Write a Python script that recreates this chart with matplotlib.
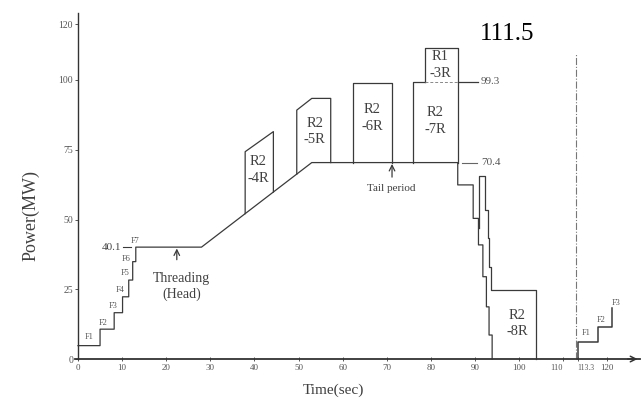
import matplotlib
matplotlib.use("Agg")
import matplotlib.pyplot as plt
import numpy as np

plt.rcParams['font.family'] = ['Liberation Serif', 'DejaVu Serif']

ink = '#3a3a3a'
txt = '#404040'

# main power curve: head steps F1..F7, threading, ramp, plateau, tail steps
main_t = [0, 5, 5, 8.2, 8.2, 10.1, 10.1, 11.5, 11.5, 12.4, 12.4, 13.1, 13.1, 28, 53, 86.1,
          86.1, 89.6, 89.6, 90.8, 90.8, 91.8, 91.8, 92.6, 92.6, 93.2, 93.2, 93.9, 93.9]
main_p = [4.8, 4.8, 10.7, 10.7, 16.6, 16.6, 22.3, 22.3, 28.3, 28.3, 34.9, 34.9, 40.1, 40.1, 70.4, 70.4,
          62.4, 62.4, 50.4, 50.4, 40.9, 40.9, 29.5, 29.5, 18.7, 18.7, 8.6, 8.6, 0]

# tail spike and R2-8R pass
spike_t = [91.0, 91.0, 92.3, 92.3, 92.9, 92.9, 93.3, 93.3, 93.7, 93.7, 103.8, 103.8]
spike_p = [47.0, 65.6, 65.6, 53.4, 53.4, 43.3, 43.3, 33.0, 33.0, 24.7, 24.7, 0]

# next slab head steps
next_t = [113.3, 113.3, 118.0, 118.0, 121.0, 121.0]
next_p = [0, 6.2, 6.2, 11.6, 11.6, 18.3]

# roughing passes drawn above the curve: (left t, right t, top-left P, top corner t, top P)
pass_names = ['R2\n-4R', 'R2\n-5R', 'R2\n-6R', 'R2\n-7R', 'R1\n-3R']
pass_left = [37.9, 49.6, 62.3, 75.9, 78.7]
pass_right = [44.3, 57.3, 71.1, 86.1, 86.1]
pass_top_left = [74.3, 89.2, 98.8, 99.3, 111.5]
pass_corner = [44.3, 53.0, 62.3, 75.9, 78.7]
pass_top = [81.5, 93.4, 98.8, 99.3, 111.5]
pass_label_t = [40.9, 53.7, 66.7, 81.0, 82.2]
pass_label_p = [67.7, 81.5, 86.4, 85.3, 105.4]

step_names = ['F1', 'F2', 'F3', 'F4', 'F5', 'F6', 'F7']
step_label_t = [2.6, 5.7, 8.0, 9.5, 10.7, 10.9, 12.9]
step_label_p = [7.9, 13.0, 19.0, 24.7, 30.7, 35.7, 42.4]
next_names = ['F1', 'F2', 'F3']
next_label_t = [115.2, 118.7, 122.1]
next_label_p = [9.2, 14.0, 20.2]

x_ticks = [0, 10, 20, 30, 40, 50, 60, 70, 80, 90, 100, 110, 113.3, 120]
x_labels = ['0', '10', '20', '30', '40', '50', '60', '70', '80', '90', '100', '110', '113.3', '120']
y_ticks = [0, 25, 50, 75, 100, 120]

fig = plt.figure(figsize=(6.42, 4.03), dpi=100)
ax = fig.add_axes([0.1167, 0.1022, 0.8807, 0.8655])
ax.set_xlim(-0.7, 127.5)
ax.set_ylim(-1, 124)

ax.plot(main_t, main_p, color=ink, lw=0.9)
ax.plot(spike_t, spike_p, color=ink, lw=0.9)
ax.plot(next_t, next_p, color=ink, lw=1.1)

# pass boxes, standing on the curve
for i in range(len(pass_names)):
    base_l = np.interp(pass_left[i], main_t[13:16], main_p[13:16])
    base_r = np.interp(pass_right[i], main_t[13:16], main_p[13:16])
    if i == 4:
        base_l = pass_top[3]
    xs = [pass_left[i], pass_left[i], pass_corner[i], pass_right[i], pass_right[i]]
    ys = [base_l, pass_top_left[i], pass_top[i], pass_top[i], base_r]
    if i == 3:
        xs, ys = xs[:3] + [pass_left[4]], ys[:3] + [pass_top[3]]
    ax.plot(xs, ys, color=ink, lw=0.9)
    ax.text(pass_label_t[i], pass_label_p[i], pass_names[i], ha='center', va='center',
            fontsize=10.5, color=txt, linespacing=1.35)

# faint split between R2-7R and R1-3R
ax.plot([pass_left[4], pass_right[4]], [pass_top[3], pass_top[3]], color='#888888',
        lw=0.7, ls=(0, (3, 2)))
ax.text(99.5, 12.8, 'R2\n-8R', ha='center', va='center', fontsize=10.5, color=txt, linespacing=1.35)

# value markers
ax.plot([86.2, 90.7], [99.3, 99.3], color=ink, lw=0.9)
ax.text(91.2, 99.3, '99.3', ha='left', va='center', fontsize=8, color='#555555')
ax.plot([87.0, 90.4], [70.4, 70.4], color='#666666', lw=0.8)
ax.text(91.4, 70.4, '70.4', ha='left', va='center', fontsize=8, color='#555555')
ax.plot([10.1, 12.0], [40.1, 40.1], color=ink, lw=0.8)
ax.text(9.8, 40.1, '40.1', ha='right', va='center', fontsize=8, color='#444444')
ax.text(97.3, 116.5, '111.5', ha='center', va='center', fontsize=18, color='black')

for name, t, p in zip(step_names, step_label_t, step_label_p):
    ax.text(t, p, name, ha='center', va='center', fontsize=6, color='#555555')
for name, t, p in zip(next_names, next_label_t, next_label_p):
    ax.text(t, p, name, ha='center', va='center', fontsize=6, color='#555555')

# annotations
ax.annotate('', xy=(22.4, 40.6), xytext=(22.4, 34.6),
            arrowprops=dict(arrowstyle='->', color=ink, lw=0.9))
ax.text(23.5, 26.0, 'Threading\n(Head)', ha='center', va='center', fontsize=10,
        color=txt, linespacing=1.3)
ax.annotate('', xy=(71.2, 70.9), xytext=(71.2, 64.2),
            arrowprops=dict(arrowstyle='->', color=ink, lw=0.9))
ax.text(71.0, 61.0, 'Tail period', ha='center', va='center', fontsize=8, color=txt)

# slab change line
ax.plot([112.9, 112.9], [0, 109.7], color='#777777', lw=0.8, ls='-.')

# axes
for s in ['top', 'right']:
    ax.spines[s].set_visible(False)
ax.spines['left'].set_position(('data', 0))
ax.spines['bottom'].set_position(('data', 0))
ax.spines['left'].set_bounds(0, 124)
ax.spines['left'].set_color('#333333')
ax.spines['bottom'].set_color('#333333')
ax.spines['left'].set_linewidth(1.0)
ax.spines['bottom'].set_linewidth(1.3)
ax.annotate('', xy=(127.5, 0), xytext=(124, 0),
            arrowprops=dict(arrowstyle='->', color='#333333', lw=1.1))

ax.set_xticks(x_ticks)
ax.set_xticklabels(x_labels)
ax.set_yticks(y_ticks)
ax.tick_params(axis='x', direction='inout', length=3, width=0.7, labelsize=6.5,
               colors='#555555', pad=2)
ax.tick_params(axis='y', direction='out', length=2.5, width=0.7, labelsize=7,
               colors='#555555', pad=1)
# 110 and 113.3 sit close together
xl = ax.get_xticklabels()
xl[11].set_fontsize(6)
xl[11].set_ha('right')
xl[12].set_fontsize(5.5)
xl[12].set_ha('left')
xl[12].set_x(112.6)

fig.text(0.52, 0.032, 'Time(sec)', ha='center', va='center', fontsize=11, color=txt)
fig.text(0.048, 0.465, 'Power(MW)', ha='center', va='center', rotation=90, fontsize=13, color=txt)

fig.savefig('out.png', dpi=100)
